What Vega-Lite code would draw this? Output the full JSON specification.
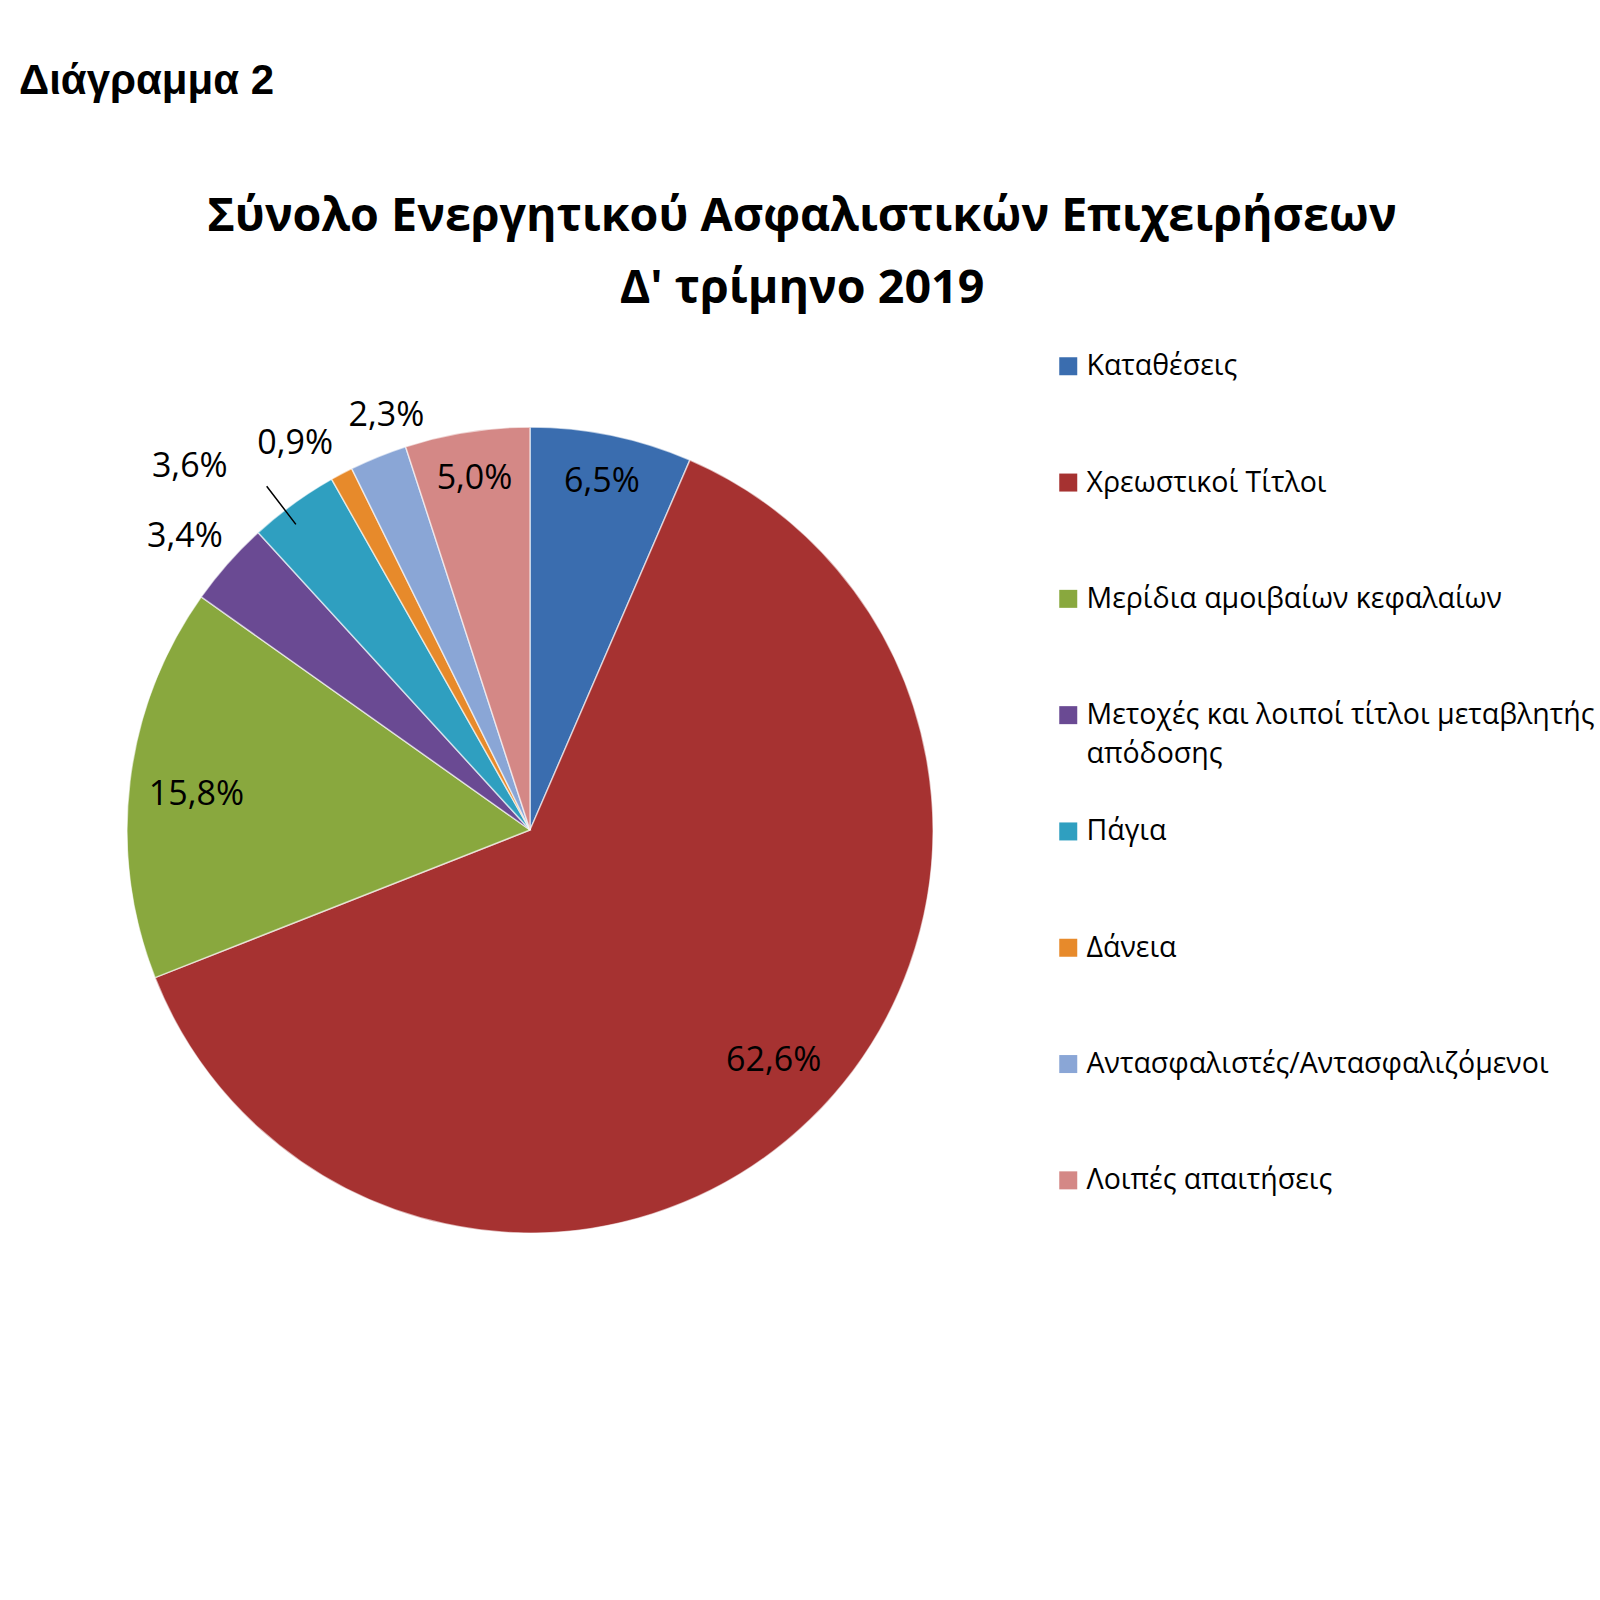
{
  "$schema": "https://vega.github.io/schema/vega-lite/v6.json",
  "background": "white",
  "padding": {"left": 5, "top": 59, "right": 0, "bottom": 0},
  "config": {
    "view": {"stroke": null},
    "style": {
      "guide-label": {"dy": -14, "lineHeight": 39}
    },
    "locale": {
      "number": {"decimal": ",", "thousands": ".", "grouping": [3], "currency": ["", " €"]}
    }
  },
  "title": {
    "text": "Διάγραμμα 2",
    "anchor": "start",
    "frame": "group",
    "dx": -108,
    "font": "Liberation Sans",
    "fontSize": 42,
    "fontWeight": "bold",
    "color": "#000000",
    "offset": 91
  },
  "vconcat": [
    {
      "width": 806,
      "height": 806,
      "title": {
        "text": ["Σύνολο Ενεργητικού Ασφαλιστικών Επιχειρήσεων", "Δ' τρίμηνο 2019"],
        "anchor": "middle",
        "frame": "group",
        "dx": 272,
        "font": "Open Sans",
        "fontSize": 46.6,
        "fontWeight": "bold",
        "color": "#000000",
        "lineHeight": 72,
        "offset": 56
      },
      "data": {
        "values": [
          {"category": "Καταθέσεις", "share": 0.065},
          {"category": "Χρεωστικοί Τίτλοι", "share": 0.626},
          {"category": "Μερίδια αμοιβαίων κεφαλαίων", "share": 0.158},
          {"category": "Μετοχές και λοιποί τίτλοι μεταβλητής απόδοσης", "share": 0.034},
          {"category": "Πάγια", "share": 0.036},
          {"category": "Δάνεια", "share": 0.009},
          {"category": "Αντασφαλιστές/Αντασφαλιζόμενοι", "share": 0.023},
          {"category": "Λοιπές απαιτήσεις", "share": 0.05}
        ]
      },
      "transform": [
        {"window": [{"op": "row_number", "as": "idx"}]}
      ],
      "encoding": {
        "theta": {"field": "share", "type": "quantitative", "stack": true},
        "order": {"field": "idx", "type": "quantitative"}
      },
      "layer": [
        {
          "mark": {"type": "arc", "stroke": "#ffffff", "strokeWidth": 1.5, "strokeOpacity": 0.6},
          "encoding": {
            "color": {
              "field": "category",
              "type": "nominal",
              "sort": null,
              "scale": {
                "range": ["#3a6daf", "#a63231", "#89a83e", "#6a4a93", "#2f9fc0", "#e78a2b", "#8aa6d6", "#d48886"]
              },
              "legend": {
                "title": null,
                "orient": "none",
                "legendX": 927,
                "legendY": -75,
                "gridAlign": "all",
                "symbolType": "square",
                "symbolSize": 324,
                "symbolStrokeWidth": 0,
                "labelFont": "Open Sans",
                "labelFontSize": 28.5,
                "labelColor": "#000000",
                "labelOffset": 4,
                "labelLimit": 700,
                "labelBaseline": "top",
                "rowPadding": 48.3,
                "labelExpr": "datum.label == 'Μετοχές και λοιποί τίτλοι μεταβλητής απόδοσης' ? ['Μετοχές και λοιποί τίτλοι μεταβλητής', 'απόδοσης'] : datum.label"
              }
            }
          }
        },
        {
          "mark": {"type": "arc", "radius": 433, "radius2": 385, "thetaOffset": -0.026, "padAngle": 1, "fill": null, "strokeWidth": 1.5},
          "encoding": {
            "stroke": {
              "condition": {"test": "datum.idx == 5", "value": "#000000"},
              "value": null
            }
          }
        },
        {
          "mark": {"type": "text", "radius": 355, "font": "Open Sans", "fontSize": 34, "color": "#000000"},
          "encoding": {
            "text": {
              "condition": {"test": "datum.idx == 1 || datum.idx == 8", "field": "share", "type": "quantitative", "format": ".1%"},
              "value": ""
            }
          }
        },
        {
          "mark": {"type": "text", "radius": 336, "dx": 10, "dy": -10, "font": "Open Sans", "fontSize": 34, "color": "#000000"},
          "encoding": {
            "text": {
              "condition": {"test": "datum.idx == 2", "field": "share", "type": "quantitative", "format": ".1%"},
              "value": ""
            }
          }
        },
        {
          "mark": {"type": "text", "radius": 336, "dy": 6, "font": "Open Sans", "fontSize": 34, "color": "#000000"},
          "encoding": {
            "text": {
              "condition": {"test": "datum.idx == 3", "field": "share", "type": "quantitative", "format": ".1%"},
              "value": ""
            }
          }
        },
        {
          "mark": {"type": "text", "radius": 455, "dx": -4, "dy": 8, "font": "Open Sans", "fontSize": 34, "color": "#000000"},
          "encoding": {
            "text": {
              "condition": {"test": "datum.idx == 4", "field": "share", "type": "quantitative", "format": ".1%"},
              "value": ""
            }
          }
        },
        {
          "mark": {"type": "text", "radius": 455, "dx": -73, "dy": 5, "font": "Open Sans", "fontSize": 34, "color": "#000000"},
          "encoding": {
            "text": {
              "condition": {"test": "datum.idx == 5", "field": "share", "type": "quantitative", "format": ".1%"},
              "value": ""
            }
          }
        },
        {
          "mark": {"type": "text", "radius": 451, "dx": -24, "dy": 13, "font": "Open Sans", "fontSize": 34, "color": "#000000"},
          "encoding": {
            "text": {
              "condition": {"test": "datum.idx == 6", "field": "share", "type": "quantitative", "format": ".1%"},
              "value": ""
            }
          }
        },
        {
          "mark": {"type": "text", "radius": 437, "dx": 21, "dy": -9, "font": "Open Sans", "fontSize": 34, "color": "#000000"},
          "encoding": {
            "text": {
              "condition": {"test": "datum.idx == 7", "field": "share", "type": "quantitative", "format": ".1%"},
              "value": ""
            }
          }
        }
      ]
    }
  ]
}
